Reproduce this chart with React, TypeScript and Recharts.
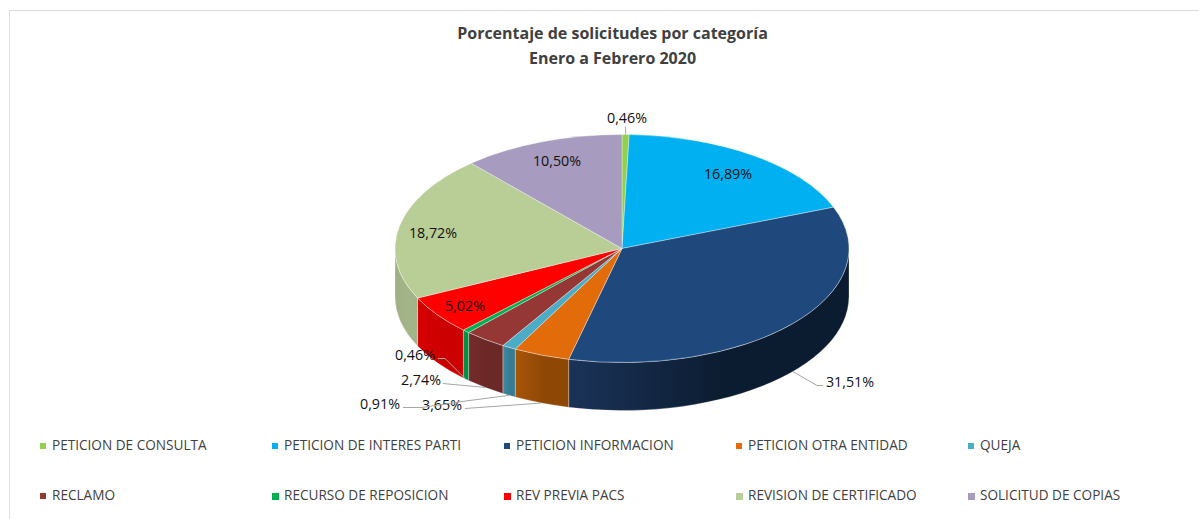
import { PieChart, Pie, Legend } from 'recharts'

const categories = [
  'PETICION DE CONSULTA',
  'PETICION DE INTERES PARTI',
  'PETICION INFORMACION',
  'PETICION OTRA ENTIDAD',
  'QUEJA',
  'RECLAMO',
  'RECURSO DE REPOSICION',
  'REV PREVIA PACS',
  'REVISION DE CERTIFICADO',
  'SOLICITUD DE COPIAS',
]
const percentages = [0.46, 16.89, 31.51, 3.65, 0.91, 2.74, 0.46, 5.02, 18.72, 10.5]

const topColors = ['#92d050', '#00b0f0', '#1f497d', '#e26b0a', '#4bacc6', '#953735', '#00b050', '#ff0000', '#b9cd96', '#a79bbf']
const wallLeft = ['#7fb545', '#0090c8', '#1a3358', '#a85508', '#3f8aa0', '#752c2b', '#009648', '#d60000', '#9fb083', '#8a7fa3']
const wallRight = ['#7fb545', '#0090c8', '#0c1c30', '#8f4706', '#377c92', '#6a2827', '#008f44', '#cc0000', '#a3b488', '#8a7fa3']
const swatchSizes = [6, 6, 6, 6, 6, 6, 7, 7, 7, 7]

const pieData = categories.map((name, i) => ({ name, value: percentages[i], fill: topColors[i] }))

const CX = 622
const CY = 248.5
const RX = 227
const FLATTEN = 114 / 227
const DEPTH = 48
const FONT = '"Open Sans"'

// label centre, relative to the pie centre, and the elbow points of its leader
const labelSpots: { dx: number; dy: number; leader?: [number, number][] }[] = [
  { dx: 5, dy: -131, leader: [] },
  { dx: 106, dy: -75 },
  { dx: 228, dy: 133, leader: [[195, 137], [201, 137]] },
  { dx: -180, dy: 156, leader: [[-157, 160]] },
  { dx: -242, dy: 155, leader: [[-160, 153], [-200, 159], [-219, 159]] },
  { dx: -201, dy: 131, leader: [[-179, 135]] },
  { dx: -207, dy: 106, leader: [[-177, 110], [-184, 110]] },
  { dx: -157, dy: 57 },
  { dx: -189, dy: -16 },
  { dx: -65, dy: -88 },
]

const pt = (cx: number, cy: number, r: number, deg: number, down = 0) => {
  const a = (deg * Math.PI) / 180
  return { x: cx + r * Math.cos(a), y: cy - r * FLATTEN * Math.sin(a) + down }
}

function Slice3D(props: any) {
  const { cx, cy, outerRadius: r, startAngle, endAngle, fill, index } = props
  const ry = r * FLATTEN
  const a = pt(cx, cy, r, startAngle)
  const b = pt(cx, cy, r, endAngle)
  const large = Math.abs(startAngle - endAngle) > 180 ? 1 : 0
  const top = `M${cx},${cy} L${a.x},${a.y} A${r},${ry} 0 ${large} 1 ${b.x},${b.y} Z`

  // only the part of the rim in the front half shows a wall
  const from = Math.min(startAngle, 0)
  const to = Math.max(endAngle, -180)
  let wall = null
  if (from > to) {
    const p = pt(cx, cy, r, from)
    const q = pt(cx, cy, r, to)
    const id = `wall-${index}`
    wall = (
      <>
        <defs>
          <linearGradient id={id} x1="1" y1="0" x2="0" y2="0">
            <stop offset="0" stopColor={wallRight[index]} />
            <stop offset="0.45" stopColor={wallRight[index]} />
            <stop offset="1" stopColor={wallLeft[index]} />
          </linearGradient>
        </defs>
        <path
          d={`M${p.x},${p.y} A${r},${ry} 0 0 1 ${q.x},${q.y} L${q.x},${q.y + DEPTH} A${r},${ry} 0 0 0 ${p.x},${p.y + DEPTH} Z`}
          fill={`url(#${id})`}
          stroke="#ffffff"
          strokeOpacity={0.35}
          strokeWidth={0.8}
        />
      </>
    )
  }
  return (
    <g>
      {wall}
      <path d={top} fill={fill} stroke="#ffffff" strokeOpacity={0.45} strokeWidth={0.8} />
    </g>
  )
}

function SliceLabel(props: any) {
  const { cx, cy, outerRadius: r, midAngle, index, value } = props
  const spot = labelSpots[index]
  const text = `${value.toFixed(2).replace('.', ',')}%`
  let line = null
  if (spot.leader) {
    const front = Math.sin((midAngle * Math.PI) / 180) < 0
    const start = pt(cx, cy, r, midAngle, front ? DEPTH : 0)
    const elbows = spot.leader.map(([dx, dy]) => `${cx + dx},${cy + dy}`)
    const end = spot.leader.length ? [] : [`${start.x},${cy + spot.dy + 9}`]
    line = (
      <polyline
        points={[`${start.x},${start.y}`, ...elbows, ...end].join(' ')}
        fill="none"
        stroke="#a6a6a6"
        strokeWidth={1}
      />
    )
  }
  return (
    <g>
      {line}
      <text x={cx + spot.dx} y={cy + spot.dy} dy={5} textAnchor="middle" fontSize={14.3} fontFamily={FONT} fill="#111111">
        {text}
      </text>
    </g>
  )
}

function LegendGrid({ payload }: any) {
  return (
    <div style={{ position: 'relative', width: 1199, height: 519 }}>
      {(payload || []).map((entry: any, i: number) => (
        <div
          key={entry.value}
          style={{
            position: 'absolute',
            left: 40 + (i % 5) * 232,
            top: i < 5 ? 436 : 486,
            height: 20,
            lineHeight: '20px',
            whiteSpace: 'nowrap',
            fontFamily: FONT,
            fontSize: 13.6,
            color: '#404040',
          }}
        >
          <span
            style={{
              position: 'absolute',
              left: 0,
              top: 7,
              width: swatchSizes[i],
              height: swatchSizes[i],
              background: entry.color,
            }}
          />
          <span style={{ position: 'absolute', left: 12, top: -1 }}>{entry.value}</span>
        </div>
      ))}
    </div>
  )
}

export default function App() {
  return (
    <div style={{ position: 'absolute', left: 0, top: 0, width: 1199, height: 519, overflow: 'hidden', background: '#fff' }}>
      <div
        style={{
          position: 'absolute',
          left: 9,
          top: 10,
          width: 1190,
          height: 509,
          borderLeft: '1.5px solid #e2e2e2',
          borderTop: '1.5px solid #d9d9d9',
        }}
      />
      <PieChart
        width={1199}
        height={519}
        margin={{ top: 0, right: 0, bottom: 0, left: 0 }}
        style={{ position: 'absolute', left: 0, top: 0 }}
      >
        <text x={612.5} y={39} textAnchor="middle" fontSize={16} fontWeight={700} fontFamily={FONT} fill="#404040">
          Porcentaje de solicitudes por categoría
        </text>
        <text x={612.5} y={64} textAnchor="middle" fontSize={16} fontWeight={700} fontFamily={FONT} fill="#404040">
          Enero a Febrero 2020
        </text>
        <Pie
          data={pieData}
          dataKey="value"
          nameKey="name"
          cx={CX}
          cy={CY}
          innerRadius={0}
          outerRadius={RX}
          startAngle={90}
          endAngle={-270}
          paddingAngle={0}
          isAnimationActive={false}
          shape={Slice3D}
          label={SliceLabel}
          labelLine={false}
        />
        <Legend content={LegendGrid} wrapperStyle={{ left: 0, top: 0, width: 1199, height: 519, pointerEvents: 'none' }} />
      </PieChart>
    </div>
  )
}
